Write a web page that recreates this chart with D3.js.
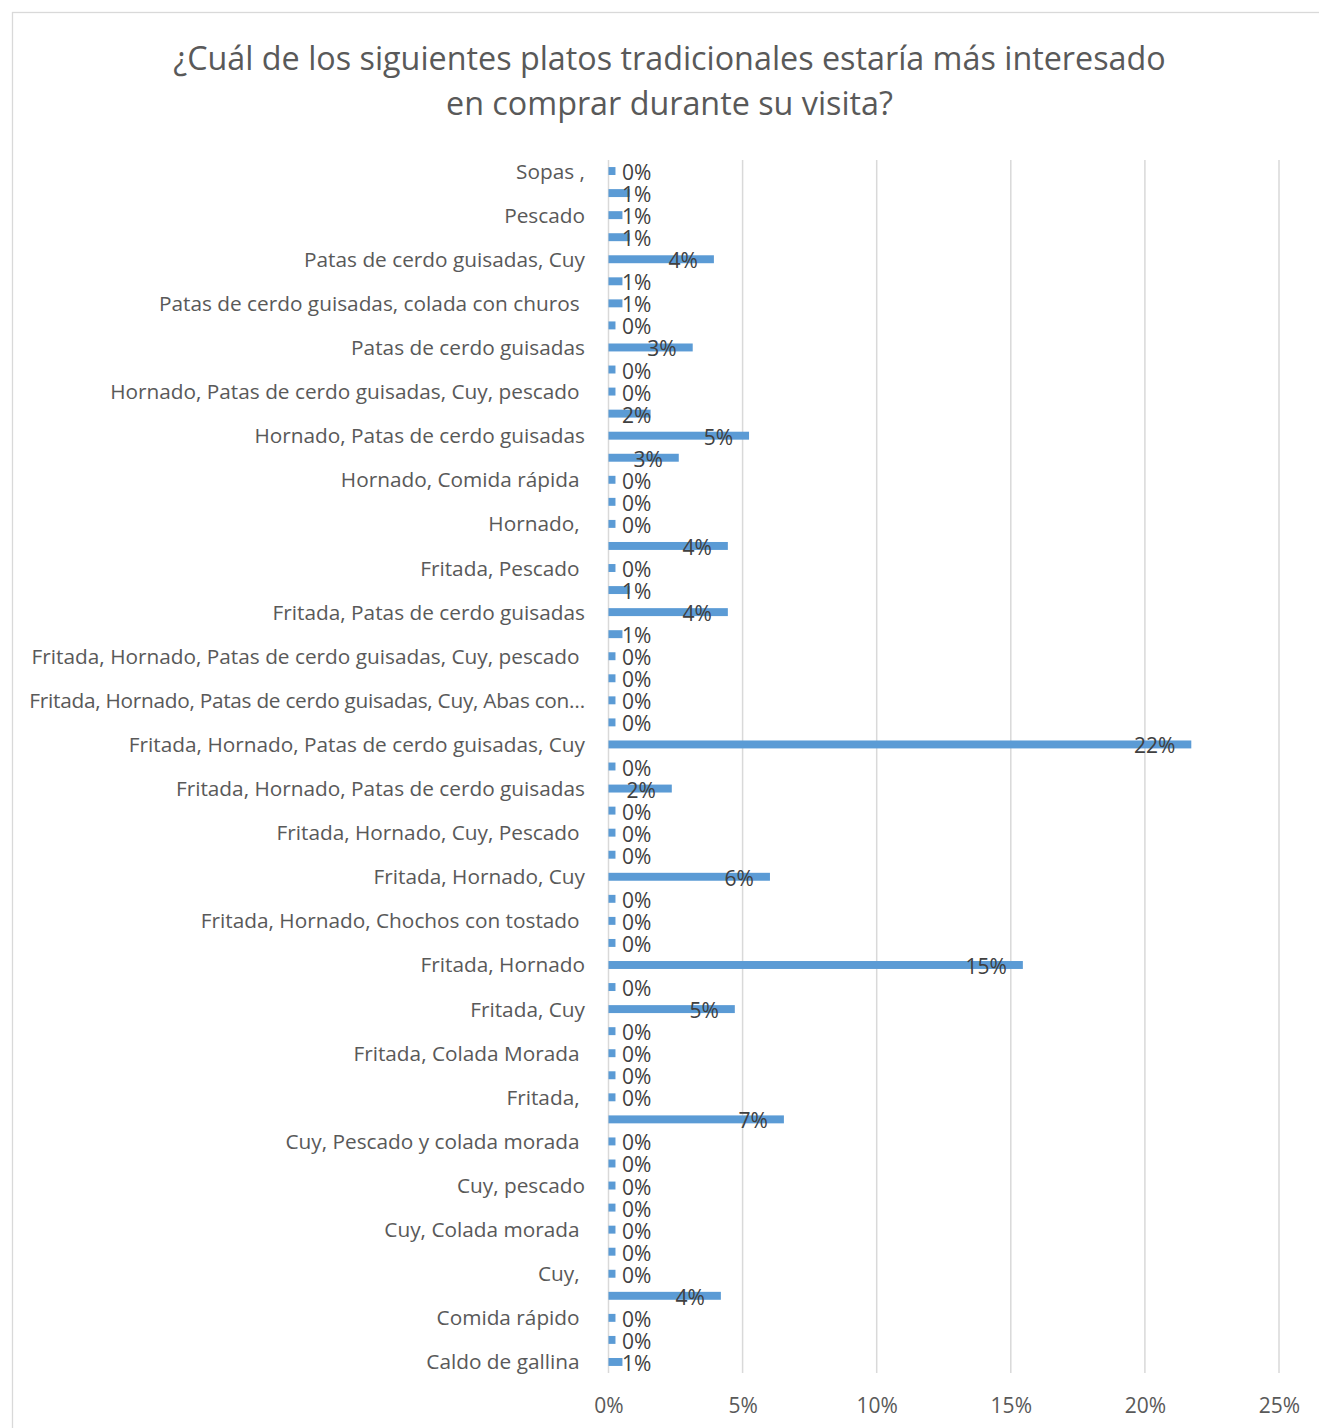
<!DOCTYPE html>
<html>
<head>
<meta charset="utf-8">
<script src="https://cdn.jsdelivr.net/npm/d3@7"></script>
<style>
  body { margin: 0; background: #ffffff; }
  svg text { font-family: "Open Sans", "DejaVu Sans", sans-serif; }
</style>
</head>
<body>
<svg id="chart" width="1319" height="1428"></svg>
<script>
// Survey question shown as the chart title (two lines)
const titleLines = [
  "¿Cuál de los siguientes platos tradicionales estaría más interesado",
  "en comprar durante su visita?"
];

// Answer categories, top to bottom; only every other one carries a printed label
const categories = [
  "Sopas ,", "",
  "Pescado", "",
  "Patas de cerdo guisadas, Cuy", "",
  "Patas de cerdo guisadas, colada con churos ", "",
  "Patas de cerdo guisadas", "",
  "Hornado, Patas de cerdo guisadas, Cuy, pescado ", "",
  "Hornado, Patas de cerdo guisadas", "",
  "Hornado, Comida rápida ", "",
  "Hornado, ", "",
  "Fritada, Pescado ", "",
  "Fritada, Patas de cerdo guisadas", "",
  "Fritada, Hornado, Patas de cerdo guisadas, Cuy, pescado ", "",
  "Fritada, Hornado, Patas de cerdo guisadas, Cuy, Abas con…", "",
  "Fritada, Hornado, Patas de cerdo guisadas, Cuy", "",
  "Fritada, Hornado, Patas de cerdo guisadas", "",
  "Fritada, Hornado, Cuy, Pescado ", "",
  "Fritada, Hornado, Cuy", "",
  "Fritada, Hornado, Chochos con tostado ", "",
  "Fritada, Hornado", "",
  "Fritada, Cuy", "",
  "Fritada, Colada Morada ", "",
  "Fritada, ", "",
  "Cuy, Pescado y colada morada ", "",
  "Cuy, pescado", "",
  "Cuy, Colada morada ", "",
  "Cuy, ", "",
  "Comida rápido ", "",
  "Caldo de gallina "
];

// Share of respondents per category, in percent
const values = [
  0.26, 0.79, 0.52, 0.79, 3.93, 0.52, 0.52, 0.26, 3.14, 0.26,
  0.26, 1.57, 5.24, 2.62, 0.26, 0.26, 0.26, 4.45, 0.26, 0.79,
  4.45, 0.52, 0.26, 0.26, 0.26, 0.26, 21.73, 0.26, 2.36, 0.26,
  0.26, 0.26, 6.02, 0.26, 0.26, 0.26, 15.45, 0.26, 4.71, 0.26,
  0.26, 0.26, 0.26, 6.54, 0.26, 0.26, 0.26, 0.26, 0.26, 0.26,
  0.26, 4.19, 0.26, 0.26, 0.52
];

// Value axis ticks (percent)
const xTicks = [0, 5, 10, 15, 20, 25];

const BAR = "#5B9BD5", GRID = "#D9D9D9", AXIS_TEXT = "#595959", LABEL_TEXT = "#404040";

const svg = d3.select("#chart");

// chart frame (right and bottom edges run past the page)
svg.append("rect")
  .attr("x", 12.5).attr("y", 12.5)
  .attr("width", 1310).attr("height", 1440)
  .attr("fill", "#ffffff").attr("stroke", GRID).attr("stroke-width", 1.3);

// title
svg.append("g").selectAll("text").data(titleLines).join("text")
  .attr("x", 669.5)
  .attr("y", (d, i) => 70 + i * 45)
  .attr("text-anchor", "middle")
  .attr("font-size", 32.3)
  .attr("fill", AXIS_TEXT)
  .text(d => d);

const x = d3.scaleLinear().domain([0, 25]).range([608.5, 1279]);
const y = d3.scaleBand()
  .domain(d3.range(values.length))
  .range([160, 1373])
  .paddingInner(0.64)
  .paddingOuter(0.32);

// vertical gridlines
svg.append("g").selectAll("line").data(xTicks).join("line")
  .attr("x1", d => x(d)).attr("x2", d => x(d))
  .attr("y1", 160).attr("y2", 1373)
  .attr("stroke", GRID).attr("stroke-width", 1.5);

// bars
svg.append("g").selectAll("rect").data(values).join("rect")
  .attr("x", x(0))
  .attr("y", (d, i) => y(i))
  .attr("width", d => x(d) - x(0))
  .attr("height", y.bandwidth())
  .attr("fill", BAR);

// category axis
const yAxis = svg.append("g")
  .attr("transform", `translate(${x(0)},0)`)
  .call(d3.axisLeft(y).tickSize(0).tickPadding(23.5).tickFormat(i => categories[i]));
yAxis.select(".domain").remove();
yAxis.selectAll("text")
  .attr("dy", "0.36em")
  .attr("font-size", 20.8)
  .attr("fill", AXIS_TEXT)
  .style("white-space", "pre")
  .style("font-family", "\"Open Sans\", sans-serif");
// the truncated label uses a tighter ellipsis run
yAxis.selectAll("text")
  .filter(function () { return this.textContent.endsWith("…"); })
  .attr("letter-spacing", -0.27);

// value axis
const xAxis = svg.append("g")
  .attr("transform", "translate(0,1373)")
  .call(d3.axisBottom(x).tickValues(xTicks).tickSize(0).tickPadding(25).tickFormat(d => d + "%"));
xAxis.select(".domain").remove();
xAxis.selectAll("text")
  .attr("font-size", 21)
  .attr("fill", AXIS_TEXT)
  .style("font-family", "\"Open Sans\", sans-serif");

// data labels, tucked inside the bar end, never left of the axis
const fmt = d3.format(".0%");
svg.append("g").selectAll("text").data(values).join("text")
  .attr("y", (d, i) => y(i) + y.bandwidth() / 2 + 9)
  .attr("font-size", 21)
  .attr("fill", LABEL_TEXT)
  .text(d => fmt(d / 100))
  .attr("x", function (d) {
    const w = this.getComputedTextLength();
    return Math.max(x(d) - 16 - w, x(0) + 13.5);
  });
</script>
</body>
</html>
